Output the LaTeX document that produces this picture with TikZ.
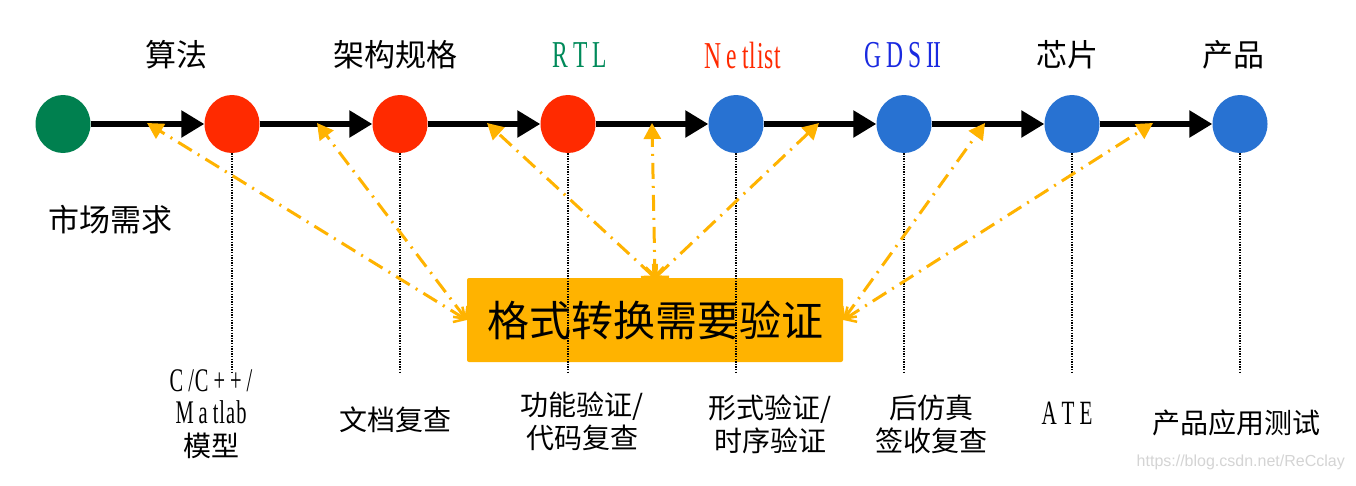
\documentclass[tikz,border=0pt]{standalone}
\usepackage{fontspec}
\setmainfont{Liberation Serif}
\newfontfamily\cjk{Noto Sans CJK SC}
\newfontfamily\latc[FakeStretch=0.62]{Liberation Serif}
\newfontfamily\wmfont{Liberation Sans}
\usetikzlibrary{arrows.meta,shapes.geometric}
\definecolor{cgreen}{HTML}{00804F}
\definecolor{cred}{HTML}{FF2A00}
\definecolor{cblue}{HTML}{2872D2}
\definecolor{tblue}{HTML}{1A2AE0}
\definecolor{tgreen}{HTML}{008A5A}
\definecolor{corange}{HTML}{FFB300}
\definecolor{wmgray}{HTML}{D4D4D4}
\newcommand\lsp{\hspace{5pt}}
\begin{document}
\begin{tikzpicture}[x=1pt,y=-1pt,
  dot/.style={ellipse,minimum width=55pt,minimum height=58pt,inner sep=0,draw=none},
  flow/.style={line width=5.5pt,-{Triangle[length=23pt,width=26pt]}},
  oarrow/.style={corange,line width=3pt,dash pattern=on 16pt off 7pt on 2pt off 7pt,
     {Straight Barb[length=9pt,width=18pt,line width=2.5pt]}-{Triangle[length=16pt,width=17pt]}},
  vdot/.style={black,line width=1.2pt,dash pattern=on 1.3pt off 1.3pt},
  toplab/.style={font=\cjk\fontsize{31}{31}\selectfont,inner sep=0},
  latlab/.style={font=\latc\fontsize{38}{38}\selectfont,inner sep=0},
  botlab/.style={font=\cjk\fontsize{28}{33}\selectfont,inner sep=0,align=center},
  box/.style={fill=corange,minimum width=376pt,minimum height=84pt,inner sep=0,rounded corners=2pt}
]
\useasboundingbox[fill=white] (0,0) rectangle (1356,485);

% circles
\node[dot,fill=cgreen] (n0) at (63,124) {};
\node[dot,fill=cred] (n1) at (232,124) {};
\node[dot,fill=cred] (n2) at (400,124) {};
\node[dot,fill=cred] (n3) at (568,124) {};
\node[dot,fill=cblue] (n4) at (736,124) {};
\node[dot,fill=cblue] (n5) at (904,124) {};
\node[dot,fill=cblue] (n6) at (1072,124) {};
\node[dot,fill=cblue] (n7) at (1240,124) {};

% flow arrows
\draw[flow] (n0) -- (n1);
\draw[flow] (n1) -- (n2);
\draw[flow] (n2) -- (n3);
\draw[flow] (n3) -- (n4);
\draw[flow] (n4) -- (n5);
\draw[flow] (n5) -- (n6);
\draw[flow] (n6) -- (n7);

% top labels
\node[toplab] (l1) at (176,55) {算法};
\node[toplab] (l2) at (395,55) {架构规格};
\node[latlab,text=tgreen] (l3) at (580,55) {R\lsp T\lsp L};
\node[latlab,text=cred] (l4) at (743,55) {N\lsp e\lsp t\hspace{1pt}l\hspace{1pt}i\hspace{1pt}s\hspace{1pt}t};
\node[latlab,text=tblue] (l5) at (903,55) {G\lsp D\lsp S\lsp I\hspace{-1.5pt}I};
\node[toplab] (l6) at (1067,55) {芯片};
\node[toplab] (l7) at (1233,55) {产品};
\node[toplab] (mk) at (110,220) {市场需求};

% box
\node[box] (box) at (655,320) {};

% dotted verticals
\foreach \i/\x in {1/232,2/400,3/568,4/736,5/904,6/1072,7/1240}{
  \coordinate (d\i) at (\x,372);
  \draw[vdot] (n\i.south) -- (d\i);
}

\node[font=\cjk\fontsize{42}{42}\selectfont,inner sep=0] (boxtext) at (box.center) {格式转换需要验证};

% targets on the flow arrows
\coordinate (t1) at (147,123);
\coordinate (t2) at (317,123);
\coordinate (t3) at (487,123);
\coordinate (t4) at (652,123);
\coordinate (t5) at (819,123);
\coordinate (t6) at (985,123);
\coordinate (t7) at (1153,123);

\draw[oarrow] (box.west) -- (t1);
\draw[oarrow] (box.west) -- (t2);
\draw[oarrow] (box.north) -- (t3);
\draw[oarrow] (box.north) -- (t4);
\draw[oarrow] (box.north) -- (t5);
\draw[oarrow] (box.east) -- (t6);
\draw[oarrow] (box.east) -- (t7);

% bottom labels
\node[botlab] (b1) at (211,414) {{\latc\fontsize{33}{32}\selectfont C\lsp/\hspace{1pt}C\lsp+\lsp+\lsp/}\\[-1pt]{\latc\fontsize{33}{32}\selectfont M\lsp a\lsp t\hspace{1pt}l\hspace{1pt}a\hspace{1pt}b}\\模型};
\node[botlab] (b2) at (395,420) {文档复查};
\node[botlab] (b3) at (582,421) {功能验证/\\代码复查};
\node[botlab] (b4) at (770,424) {形式验证/\\时序验证};
\node[botlab] (b5) at (931,424) {后仿真\\签收复查};
\node[latlab,font=\latc\fontsize{34}{34}\selectfont] (b6) at (1067,413) {A\lsp T\lsp E};
\node[botlab] (b7) at (1236,423) {产品应用测试};

% watermark
\node[font=\wmfont\fontsize{16}{16}\selectfont,text=wmgray,anchor=east,inner sep=0] (wm) at (1345,462) {https://blog.csdn.net/ReCclay};
\end{tikzpicture}
\end{document}
